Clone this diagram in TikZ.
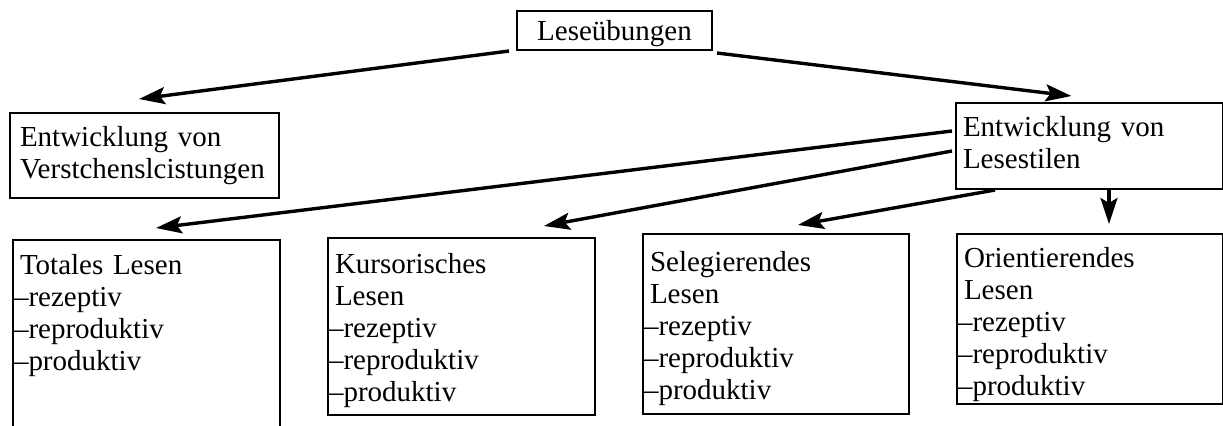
\documentclass[tikz,border=0pt]{standalone}
\usepackage{fontspec}
\setmainfont{Liberation Serif}
\usetikzlibrary{arrows.meta,calc}

\newcommand{\strich}{\hspace*{-3pt}--}

\begin{document}
\begin{tikzpicture}[x=0.5pt,y=-0.5pt,
  feld/.style={draw,line width=1pt,anchor=north west,inner xsep=3.5pt,inner ysep=0pt,
    align=left,font=\fontsize{14.5}{16}\selectfont},
  pfeil/.style={-{Stealth[length=13pt,width=8.5pt,inset=2.5pt]},line width=1.7pt}]
  \useasboundingbox (0,0) rectangle (1223,425);
  \clip (0,0) rectangle (1223,425);

  % obere Ebenen
  \node[draw,line width=1pt,inner sep=0pt,minimum width=97.5pt,minimum height=19.5pt,
    text depth=0pt,font=\fontsize{14.5}{16}\selectfont] (lese) at (614.5,30.5) {Leseübungen};
  \node[feld,inner xsep=5pt,text width=124.5pt,text height=16.5pt,text depth=26pt] (verst) at (9,112)
    {Entwicklung von\\Verstchenslcistungen};
  \node[feld,text width=126.5pt,text height=16.5pt,text depth=26.5pt] (stile) at (955,102)
    {Entwicklung von\\Lesestilen};

  % Lesestile
  \node[feld,text width=126.5pt,text height=17pt,text depth=88pt] (total) at (12,239)
    {Totales Lesen\\\strich rezeptiv\\\strich reproduktiv\\\strich produktiv};
  \node[feld,text width=126.5pt,text height=17.5pt,text depth=71pt] (kursor) at (327,237)
    {Kursorisches\\Lesen\\\strich rezeptiv\\\strich reproduktiv\\\strich produktiv};
  \node[feld,text width=126pt,text height=18.5pt,text depth=71.5pt] (selekt) at (642,233)
    {Selegierendes\\Lesen\\\strich rezeptiv\\\strich reproduktiv\\\strich produktiv};
  \node[feld,text width=126pt,text height=16.5pt,text depth=68.5pt] (orient) at (956,233)
    {Orientierendes\\Lesen\\\strich rezeptiv\\\strich reproduktiv\\\strich produktiv};

  \path
   ($(lese.south west)+(-7,0)$) edge [pfeil] ($(verst.north)+(-5.5,-13)$)
   ($(lese.south east)+(4,2)$) edge [pfeil] ($(stile.north)+(-18,-6)$)
   ($(stile.west)+(-3,-15)$) edge [pfeil] ($(total.north)+(9.5,-11)$)
   ($(stile.west)+(-3,5)$) edge [pfeil] ($(kursor.north)+(82.5,-11)$)
   ($(stile.south west)+(40,0)$) edge [pfeil] ($(selekt.north)+(22,-8)$)
   ($(stile.south)+(19.5,0)$) edge [pfeil] ($(orient.north)+(19,-9)$);
\end{tikzpicture}
\end{document}
